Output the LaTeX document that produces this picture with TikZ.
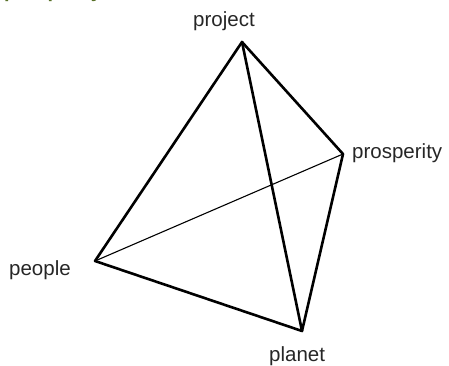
\documentclass[tikz,border=0pt]{standalone}
\usepackage{fontspec}
\setmainfont{Liberation Sans}
\definecolor{headgreen}{RGB}{88,112,40}
\begin{document}
\begin{tikzpicture}[x=1pt,y=-1pt,
  edge/.style={line width=2.6pt,line join=round,line cap=round},
  thinedge/.style={line width=1.1pt,line cap=round},
  lbl/.style={inner sep=0pt,font=\fontsize{20.5}{24}\selectfont,text=black!85}]
\useasboundingbox (0,0) rectangle (449,366);
\begin{scope}
  \clip (0,0) rectangle (449,366);
  \node[inner sep=0pt,anchor=base west,text=headgreen,font=\bfseries\fontsize{20}{24}\selectfont] (head) at (4,-2) {prosperity};
\end{scope}
\coordinate (proj) at (242,42);
\coordinate (pros) at (343,154);
\coordinate (peop) at (95,261);
\coordinate (plan) at (302,331);
\draw[thinedge] (peop) -- (pros);
\draw[edge] (proj) -- (peop) -- (plan) -- (pros) -- cycle;
\draw[edge] (proj) -- (plan);
\node[lbl,anchor=base] (lproj) at (224,27) {project};
\node[lbl,anchor=base west] (lpros) at (352,159) {prosperity};
\node[lbl,anchor=base west] (lpeop) at (9,275) {people};
\node[lbl,anchor=base west] (lplan) at (269,361) {planet};
\end{tikzpicture}
\end{document}
